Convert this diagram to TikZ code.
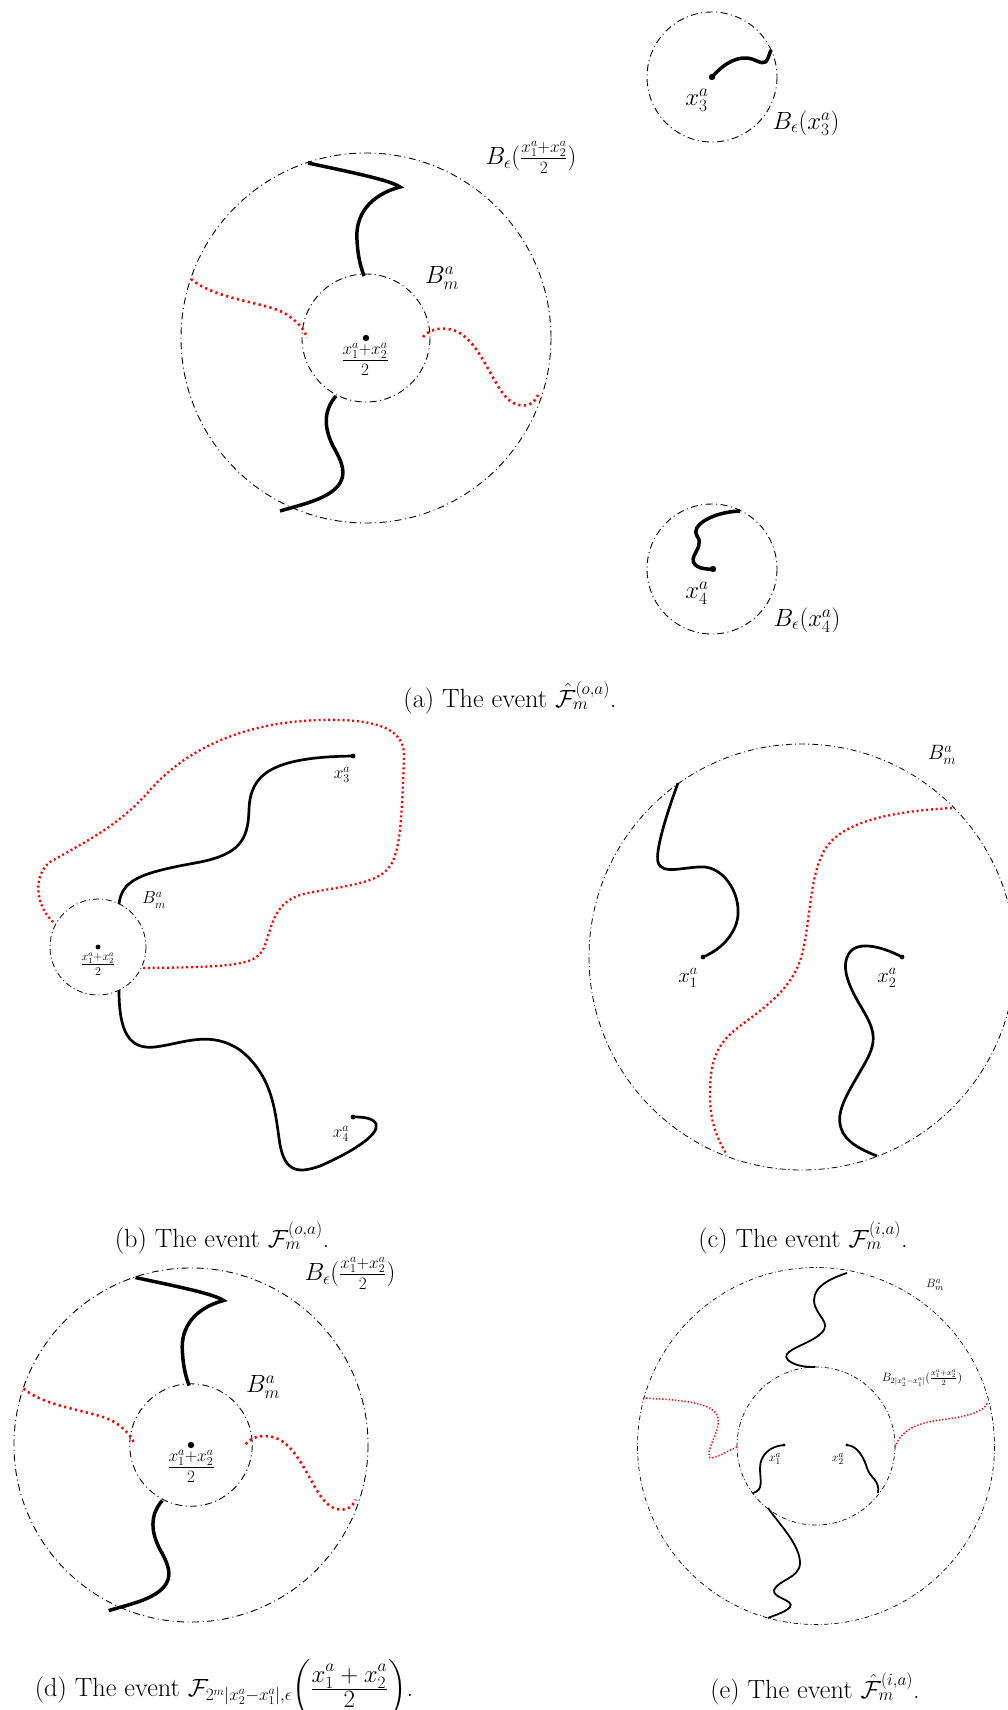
\documentclass[tikz,border=0pt]{standalone}
\usepackage{amsmath}
\begin{document}
\begin{tikzpicture}[x=1pt,y=-1pt,
  circA/.style={draw,line width=0.9pt,dash pattern=on 7pt off 3.5pt on 1pt off 3.5pt},
  circB/.style={draw,line width=0.8pt,dash pattern=on 6pt off 3pt on 1pt off 3pt},
  circE/.style={draw,line width=0.7pt,dash pattern=on 4.5pt off 2.5pt on 0.8pt off 2.5pt},
  pathA/.style={line width=3.5pt},
  pathB/.style={line width=2.7pt},
  pathE/.style={line width=1.8pt},
  redA/.style={red,line width=2.6pt,dash pattern=on 2.2pt off 3.4pt},
  redB/.style={red,line width=2.3pt,dash pattern=on 2pt off 2.8pt},
  redE/.style={red,line width=1.5pt,dash pattern=on 1.3pt off 1.9pt},
  dotA/.style={circle,fill,inner sep=0pt,minimum size=6.4pt},
  dotB/.style={circle,fill,inner sep=0pt,minimum size=4.8pt},
  dotE/.style={circle,fill,inner sep=0pt,minimum size=3.4pt},
  lblA/.style={inner sep=0pt,font=\fontsize{24.4}{29}\selectfont},
  lblB/.style={inner sep=0pt,font=\fontsize{17}{20}\selectfont},
  lblC/.style={inner sep=0pt,font=\fontsize{21}{25}\selectfont},
  lblE/.style={inner sep=0pt,font=\fontsize{13}{16}\selectfont},
  lblEs/.style={inner sep=0pt,font=\fontsize{11.5}{13}\selectfont},
  capt/.style={inner sep=0pt,anchor=base,font=\fontsize{26.3}{31}\selectfont}]
\useasboundingbox (0,0) rectangle (1008,1710);
\newcommand{\annulusdraw}{%
  \draw[circA] (0,0) circle (185);
  \draw[circA] (0,0) circle (64);
  \node[dotA] (ctr) at (0,0) {};
  \coordinate (t0) at (-58,-175);
  \coordinate (t1) at (-2,-62);
  \coordinate (b0) at (-30,58);
  \coordinate (b1) at (-86,173);
  \coordinate (l0) at (-175,-59);
  \coordinate (l1) at (-59,0);
  \coordinate (r0) at (57,-1);
  \coordinate (r1) at (172,57);
  \draw[pathA] (t0) .. controls (-16,-166) and (24,-158) .. (34,-151)
     .. controls (4,-143) and (-11,-123) .. (-9,-98)
     .. controls (-8,-78) and (-4,-68) .. (t1);
  \draw[pathA] (b0) .. controls (-44,74) and (-41,92) .. (-33,108)
     .. controls (-24,124) and (-18,137) .. (-29,149)
     .. controls (-41,162) and (-66,167) .. (b1);
  \draw[redA] (l0) .. controls (-150,-38) and (-100,-36) .. (-80,-24)
     .. controls (-68,-16) and (-61,-8) .. (l1);
  \draw[redA] (r0) .. controls (64,-10) and (80,-12) .. (92,-6)
     .. controls (114,6) and (124,40) .. (139,58)
     .. controls (149,70) and (166,72) .. (r1);
}
% ---------------- (a)
\begin{scope}[shift={(366,338)},name prefix=a-]
  \annulusdraw
\end{scope}
\node[lblA] (a-frac) at (365,359) {$\frac{x_1^a+x_2^a}{2}$};
\node[lblA] (a-Bm) at (442,278) {$B_m^a$};
\node[lblA] (a-Be) at (531,157) {$B_\epsilon(\frac{x_1^a+x_2^a}{2})$};
% x3 ball
\draw[circA] (712,77) circle (65);
\node[dotA] (x3) at (712,77) {};
\draw[pathA] (x3.center) .. controls (725,62) and (740,55) .. (752,59)
   .. controls (760,62) and (765,66) .. (768,58) -- (771,50);
\node[lblA] (x3l) at (697,100) {$x_3^a$};
\node[lblA] (x3B) at (806,123) {$B_\epsilon(x_3^a)$};
% x4 ball
\draw[circA] (712,569) circle (65);
\node[dotA] (x4) at (713,569) {};
\draw[pathA] (x4.center) .. controls (700,570) and (690,565) .. (694,556)
   .. controls (698,548) and (702,542) .. (697,536)
   .. controls (690,526) and (712,512) .. (740,511);
\node[lblA] (x4l) at (697,593) {$x_4^a$};
\node[lblA] (x4B) at (807,620) {$B_\epsilon(x_4^a)$};
\node[capt] (capa) at (510,707) {(a) The event $\hat{\mathcal{F}}_m^{(o,a)}$.};
% ---------------- (b)
\draw[circB] (98,947) circle (48);
\node[dotB] (bc) at (98,947) {};
\node[lblB] (b-frac) at (98,964) {$\frac{x_1^a+x_2^a}{2}$};
\node[lblB] (b-Bm) at (154,900) {$B_m^a$};
\node[dotB] (bx3) at (353,756) {};
\node[dotB] (bx4) at (353,1117) {};
\node[lblB] (bx3l) at (342,775) {$x_3^a$};
\node[lblB] (bx4l) at (341,1134) {$x_4^a$};
\draw[pathB] (119,904) .. controls (122,880) and (140,873) .. (195,863)
   .. controls (240,855) and (248,840) .. (249,810)
   .. controls (250,775) and (270,757) .. (bx3.center);
\draw[pathB] (119,990) .. controls (119,1030) and (128,1050) .. (155,1047)
   .. controls (185,1043) and (210,1030) .. (240,1050)
   .. controls (272,1075) and (275,1110) .. (279,1138)
   .. controls (283,1170) and (295,1175) .. (320,1166)
   .. controls (350,1153) and (380,1135) .. (376,1124)
   .. controls (373,1117) and (360,1117) .. (bx4.center);
\draw[redB] (53,922) .. controls (35,905) and (33,875) .. (50,862)
   .. controls (85,842) and (120,825) .. (150,790)
   .. controls (190,745) and (250,722) .. (320,720)
   .. controls (390,718) and (406,735) .. (404,760)
   .. controls (402,800) and (402,850) .. (390,866)
   .. controls (378,886) and (330,887) .. (300,895)
   .. controls (275,903) and (272,925) .. (265,945)
   .. controls (258,965) and (240,967) .. (143,968);
\node[capt] (capb) at (222,1247) {(b) The event $\mathcal{F}_m^{(o,a)}$.};
% ---------------- (c)
\draw[circB] (802,957) circle (213);
\node[lblC] (c-Bm) at (942,755) {$B_m^a$};
\node[dotB] (cx1) at (703,957) {};
\node[dotB] (cx2) at (902,957) {};
\node[lblC] (cx1l) at (688,978) {$x_1^a$};
\node[lblC] (cx2l) at (887,978) {$x_2^a$};
\draw[pathB] (678,783) .. controls (668,810) and (655,850) .. (658,862)
   .. controls (662,876) and (685,866) .. (705,867)
   .. controls (730,870) and (745,905) .. (735,927)
   .. controls (728,943) and (715,952) .. (cx1.center);
\draw[pathB] (cx2.center) .. controls (885,948) and (860,940) .. (850,952)
   .. controls (840,965) and (848,985) .. (860,1005)
   .. controls (875,1030) and (878,1040) .. (865,1063)
   .. controls (850,1090) and (835,1110) .. (841,1128)
   .. controls (845,1142) and (862,1150) .. (877,1156);
\draw[redB] (952,808) .. controls (880,812) and (835,825) .. (822,855)
   .. controls (810,880) and (810,920) .. (803,950)
   .. controls (795,990) and (760,1010) .. (735,1030)
   .. controls (710,1050) and (710,1075) .. (710,1100)
   .. controls (711,1125) and (718,1140) .. (727,1155);
\node[capt] (capc) at (803,1247) {(c) The event $\mathcal{F}_m^{(i,a)}$.};
% ---------------- (d)
\begin{scope}[shift={(191,1445)},scale=0.957,name prefix=d-]
  \annulusdraw
\end{scope}
\node[lblA] (d-frac) at (191,1466) {$\frac{x_1^a+x_2^a}{2}$};
\node[lblA] (d-Bm) at (263,1387) {$B_m^a$};
\node[lblA] (d-Be) at (350,1273) {$B_\epsilon(\frac{x_1^a+x_2^a}{2})$};
\node[capt] (capd) at (224,1696) {(d) The event $\mathcal{F}_{2^m|x_2^a-x_1^a|,\epsilon}\biggl(\frac{\displaystyle x_1^a+x_2^a}{\displaystyle 2}\biggr)$.};
% ---------------- (e)
\draw[circE] (816,1446) circle (178.5);
\draw[circE] (816,1446) circle (79);
\node[lblE] (e-Bm) at (935,1285) {$B_m^a$};
\node[lblEs] (e-B2) at (922,1378) {$B_{2|x_2^a-x_1^a|}(\frac{x_1^a+x_2^a}{2})$};
\node[dotE] (ex1) at (784,1445) {};
\node[dotE] (ex2) at (847,1445) {};
\node[lblE] (ex1l) at (775,1459) {$x_1^a$};
\node[lblE] (ex2l) at (838,1459) {$x_2^a$};
\draw[pathE] (ex1.center) .. controls (770,1446) and (760,1455) .. (760,1468)
   .. controls (760,1480) and (764,1490) .. (753,1493);
\draw[pathE] (ex2.center) .. controls (858,1446) and (864,1458) .. (867,1468)
   .. controls (870,1478) and (880,1480) .. (878,1493);
\draw[pathE] (847,1273) .. controls (825,1280) and (810,1290) .. (815,1306)
   .. controls (820,1320) and (835,1325) .. (815,1338)
   .. controls (800,1347) and (780,1352) .. (788,1360)
   .. controls (795,1366) and (805,1367) .. (815,1367);
\draw[pathE] (768,1508) .. controls (780,1525) and (800,1545) .. (800,1563)
   .. controls (800,1578) and (778,1580) .. (774,1590)
   .. controls (772,1598) and (795,1600) .. (790,1607)
   .. controls (786,1612) and (775,1615) .. (768,1618);
\draw[redE] (643,1398) .. controls (680,1400) and (715,1402) .. (718,1418)
   .. controls (720,1432) and (708,1445) .. (709,1456)
   .. controls (710,1462) and (725,1452) .. (737,1447);
\draw[redE] (895,1447) .. controls (900,1432) and (915,1423) .. (940,1420)
   .. controls (965,1417) and (985,1412) .. (988,1402);
\node[capt] (cape) at (815,1698) {(e) The event $\hat{\mathcal{F}}_m^{(i,a)}$.};
\end{tikzpicture}
\end{document}
